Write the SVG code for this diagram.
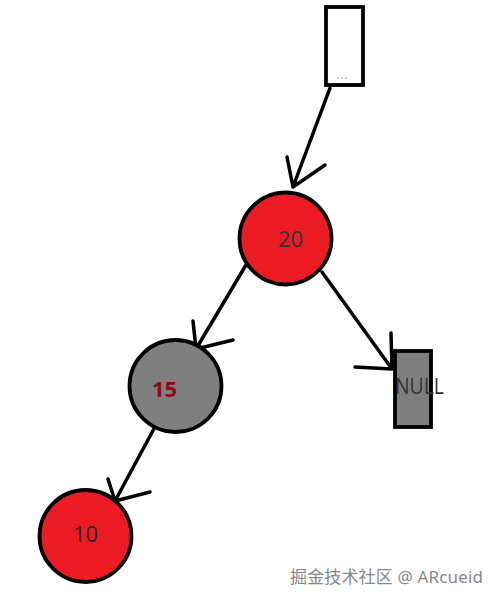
<svg xmlns="http://www.w3.org/2000/svg" width="500" height="603" viewBox="0 0 500 603">
<style>
.red{fill:#ed1c24;stroke:#000;stroke-width:3.8}
.gray{fill:#7f7f7f;stroke:#000;stroke-width:3.8}
.edge{fill:none;stroke:#000;stroke-width:3.5;stroke-linecap:round;stroke-linejoin:round}
.lbl{font-family:"Open Sans","Noto Sans","DejaVu Sans",sans-serif;font-size:22px;text-anchor:middle}
</style>
<rect width="500" height="603" fill="#fff"/>
<g id="connectors">
<path class="edge" d="M330,88 L293,187 M287,157 L293,187 L325,165"/>
<path class="edge" d="M246,265 L196,349 M193,321 L196,349 L233,340"/>
<path class="edge" d="M322,272 L392,369 M391,333 L392,369 L355,367"/>
<path class="edge" d="M156,425 L115,501 M108,479 L115,501 L150,492"/>
</g>
<g id="top">
<rect x="326" y="7" width="37" height="78" fill="#fff" stroke="#000" stroke-width="3.8"/>
<text x="342" y="79" font-family="'DejaVu Sans',sans-serif" font-size="13" fill="#aaa" text-anchor="middle">...</text>
</g>
<g id="n20">
<circle class="red" cx="285.5" cy="238.5" r="46"/>
<text class="lbl" x="290.5" y="247" fill="#333">20</text>
</g>
<g id="n15">
<circle class="gray" cx="175.5" cy="386" r="46"/>
<text class="lbl" x="164.5" y="397" fill="#8b0a14" font-weight="bold">15</text>
</g>
<g id="null">
<rect class="gray" x="395" y="351" width="36" height="76"/>
<text x="395" y="394" font-family="'Open Sans','Noto Sans',sans-serif" font-size="22" fill="#333" textLength="49" lengthAdjust="spacingAndGlyphs">NULL</text>
</g>
<g id="n10">
<circle class="red" cx="85.5" cy="536" r="46"/>
<text class="lbl" x="85.5" y="542" fill="#222">10</text>
</g>
<text x="483" y="583" font-family="'Noto Sans','Noto Sans CJK SC',sans-serif" font-size="17" fill="#888" text-anchor="end" textLength="193" stroke="#fff" stroke-width="0.5" paint-order="stroke">掘金技术社区 @ ARcueid</text>
</svg>
